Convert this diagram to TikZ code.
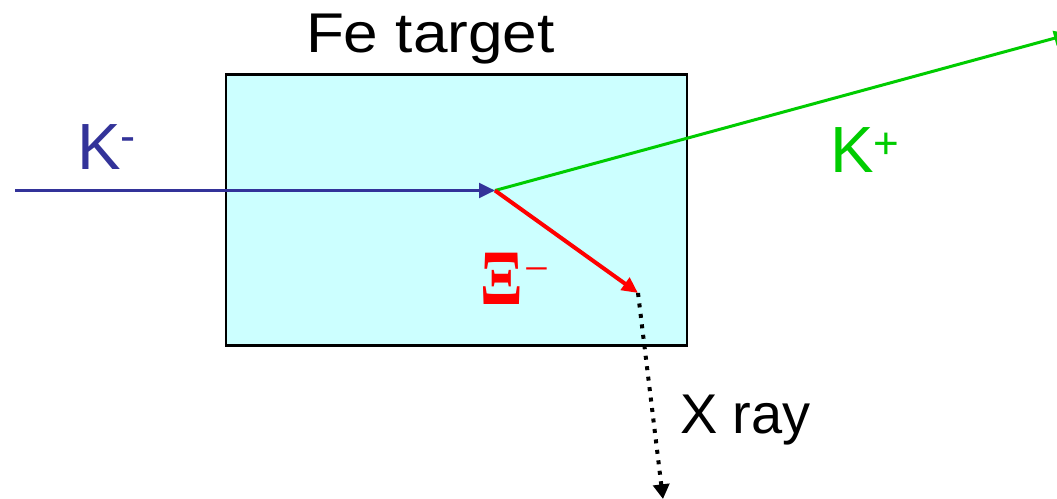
\documentclass[tikz,border=0pt]{standalone}
\usepackage{fontspec}
\setmainfont{Liberation Sans}
\newfontfamily\seriffont{Liberation Serif}
\usetikzlibrary{arrows.meta}
\definecolor{kblue}{HTML}{333399}
\definecolor{kgreen}{HTML}{00CC00}
\definecolor{xired}{HTML}{FF0000}
\definecolor{tcyan}{HTML}{CCFFFF}
\tikzset{
  lbl/.style={anchor=base west, inner sep=0pt, outer sep=0pt},
  tip/.style={-{Triangle[length=12pt,width=11pt]}},
}
\begin{document}
\begin{tikzpicture}[x=0.75pt,y=-0.75pt]
\useasboundingbox (0,0) rectangle (1057,499);
\node[draw=black, fill=tcyan, line width=1.7pt, inner sep=0pt,
      minimum width=345.75pt, minimum height=203.25pt] (target) at (456.5,210) {};
\coordinate (kin) at (15,190.5);
\coordinate (vertex) at (495,190.5);
\coordinate (xi) at (638,293);
\coordinate (kout) at (1070,34);
\coordinate (xend) at (663,499);
\draw[kblue, line width=2.25pt, tip] (kin) -- (vertex);
\draw[kgreen, line width=2.25pt, tip] (vertex) -- (kout);
\draw[xired, line width=3pt, tip] (vertex) -- (xi);
\draw[black, line width=3pt, dash pattern=on 3pt off 4.9pt, -{Triangle[length=11pt,width=12pt]}] (xi) -- (xend);
\node[lbl] (fe) at (306,53) {\scalebox{1.11}[1]{\fontsize{42}{48}\selectfont Fe target}};
\node[lbl] (xray) at (680,433) {\fontsize{42}{48}\selectfont X ray};
\node[lbl, text=kblue] (kminus) at (77,170) {\fontsize{49}{56}\selectfont K\raisebox{14pt}{\fontsize{34}{40}\selectfont -}};
\node[lbl, text=kgreen] (kplus) at (830,173) {\fontsize{49}{56}\selectfont K\raisebox{10.6pt}{\fontsize{33}{40}\selectfont +}};
\node[inner sep=0pt, text=xired] (xilbl) at (502,278.5) {\scalebox{1.12}[1.4]{\seriffont\bfseries\fontsize{42}{48}\selectfont Ξ}};
\node[lbl, text=xired] (ximinus) at (524,283) {\seriffont\fontsize{33}{40}\selectfont −};
\end{tikzpicture}
\end{document}
